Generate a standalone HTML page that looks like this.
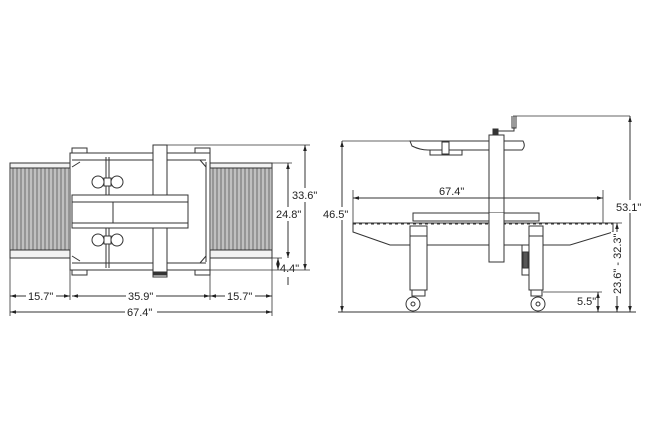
<!DOCTYPE html>
<html><head><style>
html,body{margin:0;padding:0;background:#fff;width:650px;height:445px;overflow:hidden}
svg{display:block}
text{font-family:"Liberation Sans",sans-serif;font-size:11px;fill:#222}
</style></head><body>
<svg width="650" height="445" viewBox="0 0 650 445" xmlns="http://www.w3.org/2000/svg">
<defs>
<marker id="a" viewBox="0 0 10 10" refX="10" refY="5" markerWidth="6" markerHeight="6" orient="auto-start-reverse"><path d="M0,2 L10,5 L0,8z" fill="#222"/></marker>
<pattern id="rl" width="4" height="10" patternUnits="userSpaceOnUse"><rect width="4" height="10" fill="#e8e8e8"/><line x1="1" y1="0" x2="1" y2="10" stroke="#444" stroke-width="1"/><line x1="3" y1="0" x2="3" y2="10" stroke="#999" stroke-width="1"/></pattern>
</defs>
<g stroke="#333" stroke-width="1" fill="none">
<!-- LEFT VIEW -->
<rect x="10" y="163" width="60" height="95" fill="#f2f2f2"/>
<rect x="11" y="168" width="58" height="82" fill="url(#rl)" stroke="none"/>
<line x1="10" y1="168" x2="70" y2="168"/><line x1="10" y1="250" x2="70" y2="250"/>
<rect x="210" y="163" width="62" height="95" fill="#f2f2f2"/>
<rect x="211" y="168" width="60" height="82" fill="url(#rl)" stroke="none"/>
<line x1="210" y1="168" x2="272" y2="168"/><line x1="210" y1="250" x2="272" y2="250"/>
<rect x="70" y="153" width="140" height="117" fill="#fff"/>
<rect x="72" y="148" width="15" height="5"/><rect x="195" y="148" width="15" height="5"/>
<rect x="72" y="270" width="15" height="5"/><rect x="195" y="270" width="15" height="5"/>
<path d="M72,160 L206,160 M72,263 L206,263 M206,162 L206,262 M72,167 L80,162 M72,256 L80,261 M200,160 L206,167 M200,263 L206,256"/>
<line x1="106" y1="157" x2="106" y2="268"/><line x1="109" y1="157" x2="109" y2="268"/>
<rect x="153" y="145" width="14" height="132" fill="#fff"/>
<rect x="153" y="272" width="14" height="3" fill="#333"/>
<rect x="72" y="195" width="116" height="33" fill="#fff"/>
<line x1="72" y1="202" x2="188" y2="202"/><line x1="72" y1="223" x2="188" y2="223"/><line x1="113" y1="202" x2="113" y2="223"/>
<circle cx="98" cy="182" r="6" fill="#fff"/><circle cx="117" cy="182" r="6" fill="#fff"/><rect x="104" y="178" width="7" height="8" fill="#fff"/>
<circle cx="98" cy="240" r="6" fill="#fff"/><circle cx="117" cy="240" r="6" fill="#fff"/><rect x="104" y="236" width="7" height="8" fill="#fff"/>
<!-- left dims -->
<path d="M167,145 L310,145 M272,163 L292,163 M272,258 L282,258 M210,270 L310,270" stroke-width="0.8"/>
<line x1="305" y1="145" x2="305" y2="270" marker-start="url(#a)" marker-end="url(#a)"/>
<line x1="288" y1="163" x2="288" y2="258" marker-start="url(#a)" marker-end="url(#a)"/>
<line x1="278" y1="258" x2="278" y2="270" marker-start="url(#a)" marker-end="url(#a)"/>
<line x1="288" y1="277" x2="288" y2="285"/>
<path d="M10,258 L10,316 M70,270 L70,300 M210,270 L210,300 M272,258 L272,316" stroke-width="0.8"/>
<line x1="10" y1="296" x2="70" y2="296" marker-start="url(#a)" marker-end="url(#a)"/>
<line x1="72" y1="296" x2="210" y2="296" marker-start="url(#a)" marker-end="url(#a)"/>
<line x1="210" y1="296" x2="272" y2="296" marker-start="url(#a)" marker-end="url(#a)"/>
<line x1="10" y1="312" x2="272" y2="312" marker-start="url(#a)" marker-end="url(#a)"/>
<!-- RIGHT VIEW -->
<path d="M410,141 L523,141 Q526,146 522,150 L428,150 Q420,150 412,146 Z" fill="#fff"/>
<rect x="430" y="150" width="32" height="5" fill="#fff"/><rect x="442" y="142" width="7" height="12" fill="#fff"/>
<rect x="489" y="135" width="15" height="127" fill="#fff"/>
<rect x="493" y="129" width="5" height="6" fill="#333"/>
<path d="M498,131 L514,131 L514,116 M512,116 L512,128 L516,128 L516,116"/>
<path d="M513,116 L630,116 M342,141 L410,141" stroke-width="0.8"/>
<line x1="630" y1="116" x2="630" y2="312" marker-start="url(#a)" marker-end="url(#a)"/>
<line x1="342" y1="141" x2="342" y2="312" marker-start="url(#a)" marker-end="url(#a)"/>
<line x1="353" y1="198" x2="603" y2="198" marker-start="url(#a)" marker-end="url(#a)"/>
<path d="M353,190 L353,225 M603,190 L603,225" stroke-width="0.8"/>
<path d="M353,223 L613,223 L613,232 L570,245 L390,245 L353,232 Z" fill="#fff"/>
<line x1="353" y1="224" x2="613" y2="224" stroke-dasharray="3,3"/>
<rect x="413" y="213" width="126" height="8" fill="#fff"/>
<rect x="489" y="213" width="15" height="49" fill="#fff" stroke="none"/>
<line x1="489" y1="135" x2="489" y2="262"/><line x1="504" y1="135" x2="504" y2="262"/><line x1="489" y1="262" x2="504" y2="262"/>
<rect x="410" y="226" width="17" height="64" fill="#fff"/><line x1="410" y1="236" x2="427" y2="236"/>
<rect x="529" y="226" width="14" height="64" fill="#fff"/><line x1="529" y1="236" x2="543" y2="236"/>
<rect x="522" y="245" width="7" height="30" fill="#fff"/><rect x="523" y="252" width="5" height="16" fill="#555"/>
<path d="M412,290 L412,296 L425,296 L425,290 M531,290 L531,296 L542,296 L542,290"/>
<circle cx="413" cy="304" r="7" fill="#fff"/><circle cx="413" cy="304" r="2"/>
<circle cx="538" cy="304" r="7" fill="#fff"/><circle cx="538" cy="304" r="2"/>
<line x1="338" y1="312" x2="636" y2="312"/>
<path d="M543,292 L602,292 M613,223 L622,223" stroke-width="0.8"/>
<line x1="598" y1="292" x2="598" y2="312" marker-start="url(#a)" marker-end="url(#a)"/>
<line x1="617" y1="223" x2="617" y2="312" marker-start="url(#a)" marker-end="url(#a)"/>
</g>
<rect x="300" y="188" width="22" height="14" fill="#fff"/>
<text x="292" y="199">33.6"</text>
<rect x="276" y="207" width="24" height="14" fill="#fff"/>
<text x="276" y="218">24.8"</text>
<text x="280" y="272">4.4"</text>
<rect x="26" y="290" width="30" height="12" fill="#fff"/><text x="28" y="300">15.7"</text>
<rect x="126" y="290" width="30" height="12" fill="#fff"/><text x="128" y="300">35.9"</text>
<rect x="225" y="290" width="30" height="12" fill="#fff"/><text x="227" y="300">15.7"</text>
<rect x="125" y="306" width="32" height="12" fill="#fff"/><text x="127" y="316">67.4"</text>
<text x="439" y="195">67.4"</text>
<rect x="322" y="207" width="30" height="13" fill="#fff"/><text x="323" y="218">46.5"</text>
<rect x="614" y="200" width="28" height="13" fill="#fff"/><text x="616" y="211">53.1"</text>
<text x="577" y="305">5.5"</text>
<rect x="611" y="232" width="12" height="64" fill="#fff"/>
<text transform="translate(621,294) rotate(-90)">23.6" - 32.3"</text>
</svg>
</body></html>
